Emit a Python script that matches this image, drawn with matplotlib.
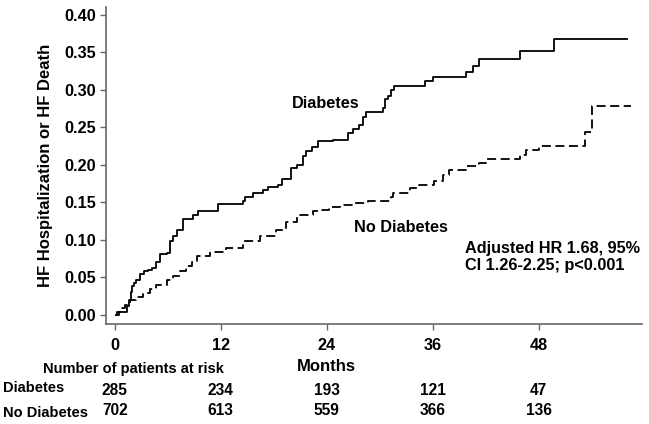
import matplotlib
matplotlib.use("Agg")
import matplotlib.pyplot as plt

plt.rcParams['font.family'] = ['Liberation Sans', 'DejaVu Sans']
plt.rcParams['font.weight'] = 'bold'

# Kaplan-Meier style cumulative incidence
diabetes_t = [0.2, 0.5, 1.4, 1.6, 1.8, 2.0, 2.2, 2.4, 2.8, 3.3,
              3.8, 4.2, 4.7, 5.1, 5.9, 6.2, 6.6, 7.0, 7.7, 8.9,
              9.4, 11.7, 14.5, 14.7, 15.7, 16.8, 17.4, 18.5, 18.9, 20.0,
              20.6, 21.3, 21.7, 22.3, 23.0, 24.7, 26.4, 27.0, 27.7, 28.1,
              28.5, 30.4, 30.6, 31.0, 31.3, 31.6, 35.1, 36.0, 39.8, 40.6,
              41.2, 45.9, 49.7, 58.0]
diabetes_y = [0.0, 0.004, 0.012, 0.02, 0.03, 0.038, 0.043, 0.047, 0.055, 0.058,
              0.060, 0.063, 0.07, 0.081, 0.083, 0.098, 0.105, 0.113, 0.128, 0.133,
              0.139, 0.148, 0.152, 0.157, 0.162, 0.166, 0.170, 0.173, 0.181, 0.196,
              0.2, 0.211, 0.218, 0.223, 0.231, 0.233, 0.242, 0.247, 0.253, 0.264,
              0.27, 0.276, 0.287, 0.291, 0.3, 0.305, 0.311, 0.317, 0.324, 0.332,
              0.341, 0.352, 0.368, 0.368]

nodiab_t = [0.0, 0.3, 0.6, 1.1, 1.7, 2.4, 3.2, 4.0, 4.7, 5.9,
            6.6, 7.4, 8.1, 8.7, 9.3, 10.8, 12.6, 14.5, 16.4, 18.3,
            19.4, 20.6, 22.5, 23.2, 24.3, 25.5, 27.0, 28.7, 31.3, 31.5,
            33.4, 34.5, 36.2, 37.2, 37.9, 39.8, 41.3, 42.1, 45.9, 46.6,
            48.1, 53.3, 54.0, 58.5]
nodiab_y = [0.0, 0.004, 0.009, 0.013, 0.02, 0.024, 0.029, 0.034, 0.04, 0.047,
            0.052, 0.058, 0.065, 0.071, 0.078, 0.084, 0.089, 0.098, 0.105, 0.113,
            0.124, 0.133, 0.138, 0.140, 0.144, 0.147, 0.149, 0.152, 0.157, 0.163,
            0.169, 0.173, 0.178, 0.187, 0.193, 0.199, 0.202, 0.208, 0.213, 0.220,
            0.225, 0.244, 0.278, 0.278]

x_ticks = [0, 12, 24, 36, 48]
y_ticks = [0.0, 0.05, 0.10, 0.15, 0.20, 0.25, 0.30, 0.35, 0.40]
risk_diabetes = [285, 234, 193, 121, 47]
risk_nodiab = [702, 613, 559, 366, 136]

fig = plt.figure(figsize=(6.49, 4.24), dpi=100)
ax = fig.add_axes([0.1633, 0.2358, 0.8257, 0.7477])

ax.plot(diabetes_t, diabetes_y, drawstyle='steps-post', color='black', lw=1.3)
ax.plot(nodiab_t, nodiab_y, drawstyle='steps-post', color='black', lw=1.3,
        linestyle=(0, (5, 2.5)))

ax.set_xlim(-1.0, 59.7)
ax.set_ylim(-0.012, 0.41)
ax.set_xticks(x_ticks)
ax.set_yticks(y_ticks)
ax.set_yticklabels(['%.2f' % v for v in y_ticks])
for s in ['top', 'right']:
    ax.spines[s].set_visible(False)
for s in ['left', 'bottom']:
    ax.spines[s].set_color('#666666')
    ax.spines[s].set_linewidth(1.2)
ax.tick_params(direction='out', length=4, width=1, color='#666666',
               labelsize=11.7, pad=3)
ax.tick_params(axis='x', pad=6)
for lab in ax.get_xticklabels() + ax.get_yticklabels():
    lab.set_fontweight('bold')

ax.set_ylabel('HF Hospitalization or HF Death', fontsize=12, fontweight='bold', labelpad=8)

ax.text(20.0, 0.281, 'Diabetes', fontsize=11.7, fontweight='bold', va='center')
ax.text(27.1, 0.117, 'No Diabetes', fontsize=11.7, fontweight='bold', va='center')
ax.text(39.7, 0.077, 'Adjusted HR 1.68, 95%\nCI 1.26-2.25; p<0.001', fontsize=11.7,
        fontweight='bold', va='center', linespacing=1.2)

# at-risk table under the axis
tr = ax.get_xaxis_transform()
ax.text(24, -0.135, 'Months', transform=tr, fontsize=12, fontweight='bold',
        ha='center', va='center', clip_on=False)
fig.text(43 / 649, 1 - 369 / 424, 'Number of patients at risk', fontsize=10.5,
         fontweight='bold', va='center')
fig.text(3 / 649, 1 - 388 / 424, 'Diabetes', fontsize=10.5, fontweight='bold', va='center')
fig.text(3 / 649, 1 - 413 / 424, 'No Diabetes', fontsize=10.5, fontweight='bold', va='center')
for xt, a, b in zip(x_ticks, risk_diabetes, risk_nodiab):
    ax.text(xt, -0.21, str(a), transform=tr, fontsize=11.2, fontweight='bold',
            ha='center', va='center', clip_on=False)
    ax.text(xt, -0.273, str(b), transform=tr, fontsize=11.2, fontweight='bold',
            ha='center', va='center', clip_on=False)

fig.savefig('out.png', dpi=100)
